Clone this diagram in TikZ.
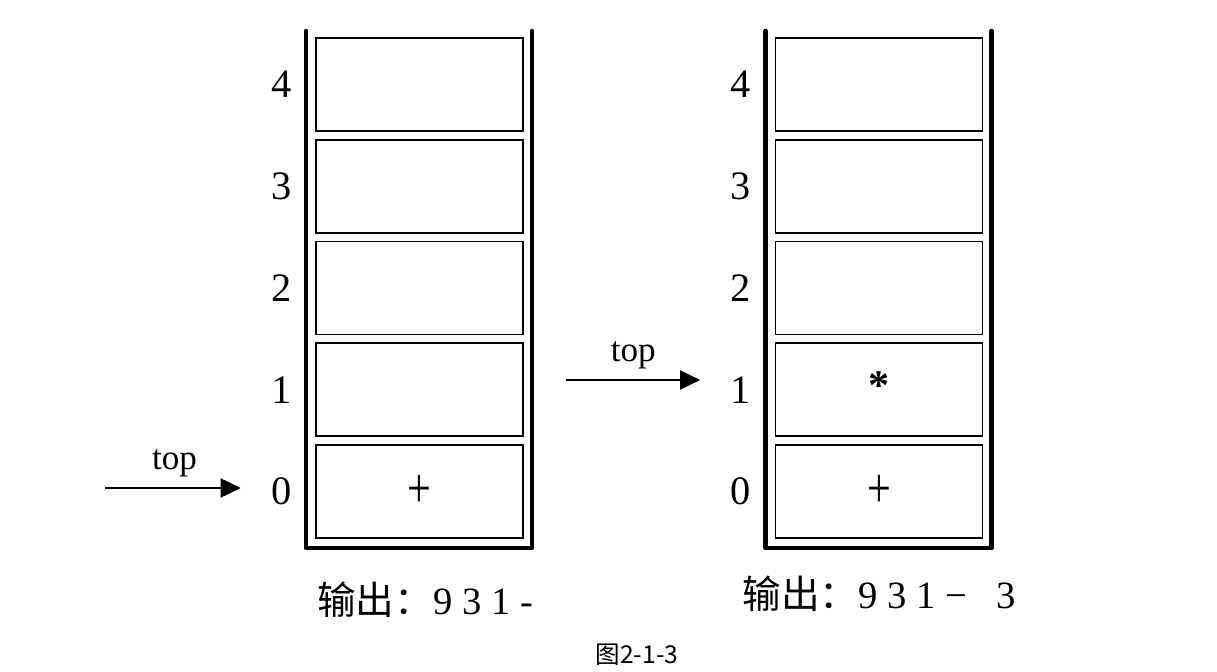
\documentclass[tikz,border=0pt]{standalone}
\usepackage{fontspec}
\setmainfont{Liberation Serif}
\newfontfamily\cjk{Noto Sans CJK SC}
\usetikzlibrary{positioning, arrows.meta, calc}
\tikzset{
  cell/.style={rectangle, minimum width=4.14cm, minimum height=1.86cm, draw=black, line width=1.1pt, inner sep=0pt},
  idx/.style={inner sep=0pt, font=\fontsize{23}{25}\selectfont},
  sym/.style={inner sep=0pt, font=\fontsize{24}{26}\selectfont},
  wall/.style={line width=2.6pt, line cap=round, line join=round},
  pointer/.style={line width=1.1pt, -{Triangle[length=0.4cm, width=0.38cm]}, shorten >=0.6cm},
  toplabel/.style={inner sep=0pt, font=\fontsize{20}{22}\selectfont},
  outtext/.style={inner sep=0pt, font=\fontsize{22}{24}\selectfont}
}
\begin{document}
\begin{tikzpicture}[x=0.02cm, y=-0.02cm]
  \useasboundingbox (0,0) rectangle (1217,672);

  % left stack
  \foreach \i in {0,...,4} {
    \node (L\i) [cell] at (419.5, 491.5-101.75*\i) {};
    \node (Lidx\i) [idx, left=0.47cm of L\i] {\i};
  }
  \node (Lplus) [sym] at (L0) {\scalebox{1}[1.35]{+}};
  \draw [wall] ($(L4.north west)+(-9,-6)$) -- ($(L0.south west)+(-9,9)$)
    -- ($(L0.south east)+(8,9)$) -- ($(L4.north east)+(8,-6)$);

  % right stack
  \foreach \i in {0,...,4} {
    \node (R\i) [cell] at (879, 491.5-101.75*\i) {};
    \node (Ridx\i) [idx, left=0.47cm of R\i] {\i};
  }
  \node (Rplus) [sym] at (R0) {\scalebox{1}[1.35]{+}};
  \node (Rstar) [sym] at ($(R1)+(0,-4)$) {\textbf{*}};
  \draw [wall] ($(R4.north west)+(-9,-6)$) -- ($(R0.south west)+(-9,9)$)
    -- ($(R0.south east)+(8,9)$) -- ($(R4.north east)+(8,-6)$);

  % top pointers
  \coordinate (Lfrom) at (105,488);
  \coordinate (Rfrom) at (566,380);
  \draw [pointer] (Lfrom) -- node[toplabel, above=6pt, pos=0.42] {top} (Lfrom -| Lidx0.west);
  \draw [pointer] (Rfrom) -- node[toplabel, above=6pt, pos=0.41] {top} (Rfrom -| Ridx1.west);

  % output
  \node (Lout) [outtext] at (425,600) {{\cjk 输出：}9 3 1 -};
  \node (Rout) [outtext] at (879,594) {{\cjk 输出：}9 3 1 − \hspace{0.5em}3};

  \node (caption) at (637,655) [inner sep=0pt, font=\cjk\fontsize{14}{16}\selectfont] {图2-1-3};
\end{tikzpicture}
\end{document}
